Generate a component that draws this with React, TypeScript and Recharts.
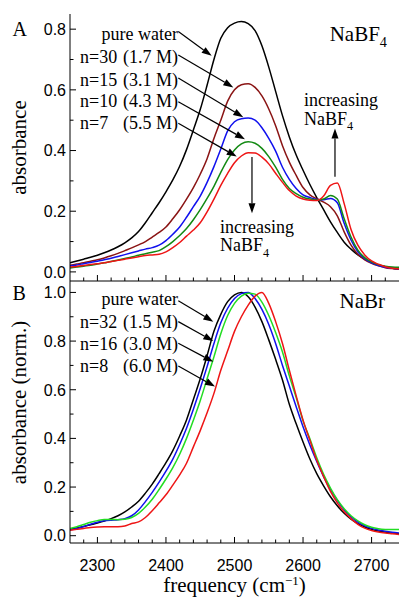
import { LineChart, Line, XAxis, YAxis, ReferenceLine, ReferenceDot } from 'recharts'

// frequency grid (cm-1)
const freq = [
  2260, 2270, 2280, 2290, 2300, 2310, 2320, 2330, 2340, 2350, 2360, 2370, 2380, 2390, 2400, 2410, 2420,
  2430, 2440, 2450, 2460, 2470, 2480, 2490, 2500, 2510, 2520, 2530, 2540, 2550, 2560, 2570, 2580, 2590,
  2600, 2610, 2620, 2630, 2640, 2650, 2660, 2670, 2680, 2690, 2700, 2710, 2720, 2730, 2740,
]

// panel A: NaBF4
const waterA = [
  0.030, 0.036, 0.042, 0.048, 0.055, 0.063, 0.072, 0.083, 0.096, 0.112, 0.133, 0.162, 0.195, 0.228, 0.264, 0.303, 0.348,
  0.403, 0.468, 0.535, 0.615, 0.700, 0.770, 0.805, 0.820, 0.825, 0.818, 0.795, 0.745, 0.675, 0.595, 0.515, 0.445, 0.385,
  0.335, 0.288, 0.245, 0.205, 0.165, 0.130, 0.098, 0.075, 0.056, 0.042, 0.031, 0.023, 0.017, 0.012, 0.009,
]
const n30A = [
  0.022, 0.026, 0.030, 0.035, 0.040, 0.046, 0.053, 0.061, 0.070, 0.079, 0.089, 0.100, 0.115, 0.130, 0.148, 0.175, 0.205,
  0.240, 0.278, 0.322, 0.373, 0.440, 0.500, 0.563, 0.600, 0.617, 0.620, 0.608, 0.580, 0.537, 0.482, 0.416, 0.362, 0.318,
  0.278, 0.254, 0.241, 0.230, 0.215, 0.185, 0.132, 0.088, 0.058, 0.040, 0.028, 0.020, 0.014, 0.011, 0.009,
]
const n15A = [
  0.020, 0.023, 0.027, 0.031, 0.035, 0.040, 0.045, 0.051, 0.057, 0.063, 0.069, 0.075, 0.080, 0.088, 0.103, 0.124, 0.148,
  0.180, 0.215, 0.250, 0.295, 0.347, 0.405, 0.465, 0.495, 0.505, 0.507, 0.500, 0.475, 0.440, 0.398, 0.345, 0.305, 0.275,
  0.254, 0.245, 0.239, 0.238, 0.242, 0.228, 0.160, 0.105, 0.066, 0.044, 0.030, 0.021, 0.015, 0.012, 0.010,
]
const n10A = [
  0.013, 0.016, 0.019, 0.022, 0.026, 0.030, 0.034, 0.039, 0.044, 0.049, 0.055, 0.060, 0.065, 0.070, 0.083, 0.100, 0.120,
  0.143, 0.172, 0.205, 0.242, 0.282, 0.328, 0.370, 0.402, 0.422, 0.429, 0.424, 0.407, 0.380, 0.345, 0.305, 0.275, 0.258,
  0.246, 0.240, 0.237, 0.240, 0.252, 0.240, 0.175, 0.115, 0.072, 0.047, 0.033, 0.024, 0.019, 0.016, 0.015,
]
const n7A = [
  0.016, 0.018, 0.021, 0.024, 0.027, 0.030, 0.034, 0.038, 0.042, 0.046, 0.050, 0.054, 0.056, 0.058, 0.066, 0.080, 0.097,
  0.118, 0.138, 0.162, 0.198, 0.240, 0.285, 0.325, 0.360, 0.382, 0.393, 0.392, 0.378, 0.356, 0.325, 0.295, 0.268, 0.250,
  0.240, 0.236, 0.235, 0.250, 0.285, 0.293, 0.225, 0.140, 0.088, 0.056, 0.036, 0.025, 0.017, 0.012, 0.010,
]

// panel B: NaBr (normalized)
const waterB = [
  0.027, 0.032, 0.038, 0.045, 0.052, 0.060, 0.070, 0.082, 0.098, 0.118, 0.142, 0.175, 0.212, 0.255, 0.300, 0.350, 0.410,
  0.476, 0.560, 0.645, 0.740, 0.840, 0.910, 0.962, 0.990, 1.000, 0.982, 0.940, 0.880, 0.805, 0.725, 0.640, 0.540, 0.460,
  0.385, 0.315, 0.255, 0.205, 0.160, 0.123, 0.092, 0.068, 0.050, 0.036, 0.026, 0.019, 0.015, 0.011, 0.008,
]
const n32B = [
  0.024, 0.030, 0.038, 0.047, 0.055, 0.061, 0.064, 0.066, 0.070, 0.082, 0.106, 0.140, 0.178, 0.220, 0.265, 0.315, 0.375,
  0.442, 0.520, 0.605, 0.695, 0.790, 0.875, 0.935, 0.975, 0.995, 1.000, 0.975, 0.930, 0.868, 0.790, 0.700, 0.615, 0.530,
  0.448, 0.373, 0.305, 0.243, 0.190, 0.145, 0.107, 0.078, 0.056, 0.041, 0.030, 0.023, 0.018, 0.014, 0.011,
]
const n16B = [
  0.030, 0.037, 0.046, 0.055, 0.062, 0.067, 0.067, 0.066, 0.068, 0.075, 0.092, 0.118, 0.150, 0.190, 0.233, 0.280, 0.335,
  0.400, 0.475, 0.555, 0.645, 0.735, 0.830, 0.905, 0.955, 0.985, 0.997, 0.993, 0.960, 0.905, 0.835, 0.755, 0.657, 0.568,
  0.472, 0.398, 0.320, 0.252, 0.196, 0.148, 0.111, 0.082, 0.061, 0.045, 0.035, 0.029, 0.026, 0.025, 0.025,
]
const n8B = [
  0.022, 0.026, 0.030, 0.034, 0.036, 0.037, 0.037, 0.037, 0.040, 0.050, 0.057, 0.075, 0.103, 0.135, 0.168, 0.208, 0.250,
  0.298, 0.365, 0.432, 0.505, 0.585, 0.680, 0.760, 0.840, 0.900, 0.948, 0.985, 1.000, 0.955, 0.880, 0.790, 0.680, 0.575,
  0.475, 0.392, 0.310, 0.244, 0.182, 0.135, 0.098, 0.070, 0.047, 0.031, 0.021, 0.015, 0.011, 0.008, 0.005,
]

const xTicks = [2280, 2300, 2320, 2340, 2360, 2380, 2400, 2420, 2440, 2460, 2480, 2500, 2520, 2540, 2560, 2580, 2600, 2620, 2640, 2660, 2680, 2700, 2720]
const yTicksA = [0, 0.1, 0.2, 0.3, 0.4, 0.5, 0.6, 0.7, 0.8]
const yTicksB = [0, 0.1, 0.2, 0.3, 0.4, 0.5, 0.6, 0.7, 0.8, 0.9, 1.0]

const dataA = freq.map((f, i) => ({ f, water: waterA[i], n30: n30A[i], n15: n15A[i], n10: n10A[i], n7: n7A[i] }))
const dataB = freq.map((f, i) => ({ f, water: waterB[i], n32: n32B[i], n16: n16B[i], n8: n8B[i] }))

const serif = '"Liberation Serif", "Times New Roman", serif'
const sans = '"Liberation Sans", Arial, sans-serif'

// inward ticks, labels only on the major ones
const xTick = (p: any, withLabel: boolean) => {
  const v = p.payload.value
  const major = v % 100 === 0
  return (
    <g>
      <line x1={p.x} y1={p.y} x2={p.x} y2={p.y - (major ? 6 : 3.5)} stroke="#000" />
      {withLabel && major && (
        <text x={p.x} y={p.y + 28} textAnchor="middle" fontFamily={sans} fontSize={16} fill="#000">{v}</text>
      )}
    </g>
  )
}

const yTick = (p: any) => {
  const v = p.payload.value
  const major = Math.round(v * 10) % 2 === 0
  return (
    <g>
      <line x1={p.x} y1={p.y} x2={p.x + (major ? 6 : 3.5)} y2={p.y} stroke="#000" />
      {major && (
        <text x={p.x - 4} y={p.y} dy="0.36em" textAnchor="end" fontFamily={sans} fontSize={16} fill="#000">{v.toFixed(1)}</text>
      )}
    </g>
  )
}

const arrowShape = (p: any) => {
  const { x1, y1, x2, y2 } = p
  const ang = Math.atan2(y2 - y1, x2 - x1)
  const len = 10
  const half = 3.5
  const bx = x2 - len * Math.cos(ang)
  const by = y2 - len * Math.sin(ang)
  const px = -Math.sin(ang) * half
  const py = Math.cos(ang) * half
  return (
    <g>
      <line x1={x1} y1={y1} x2={bx} y2={by} stroke="#000" strokeWidth={1.2} />
      <polygon points={`${x2},${y2} ${bx + px},${by + py} ${bx - px},${by - py}`} fill="#000" />
    </g>
  )
}

const arrow = (key: string, f1: number, a1: number, f2: number, a2: number) => (
  <ReferenceLine key={key} segment={[{ x: f1, y: a1 }, { x: f2, y: a2 }]} ifOverflow="visible" shape={arrowShape} />
)

const note = (key: string, f: number, a: number, content: any, anchor: string, size = 18) => (
  <ReferenceDot
    key={key}
    x={f}
    y={a}
    r={0}
    ifOverflow="visible"
    shape={(p: any) => (
      <text x={p.cx} y={p.cy} dy="0.35em" textAnchor={anchor} fontFamily={serif} fontSize={size} fill="#000">
        {content}
      </text>
    )}
  />
)

const nabf4 = (size: number) => (
  <>
    NaBF<tspan dy={size * 0.3} fontSize={size * 0.68}>4</tspan>
  </>
)

const labelA = (p: any) => {
  const vb = p.viewBox
  return (
    <g fontFamily={serif} fill="#000">
      <text x={12.5} y={vb.y + 22} fontSize={20}>A</text>
      <text transform={`translate(25.5,${vb.y + vb.height / 2}) rotate(-90)`} textAnchor="middle" fontSize={21}>absorbance</text>
    </g>
  )
}

const labelB = (p: any) => {
  const vb = p.viewBox
  return (
    <g fontFamily={serif} fill="#000">
      <text x={12.5} y={vb.y + 19} fontSize={20}>B</text>
      <text transform={`translate(25.5,${vb.y + 121.5}) rotate(-90)`} textAnchor="middle" fontSize={21}>absorbance (norm.)</text>
    </g>
  )
}

const labelX = (p: any) => {
  const vb = p.viewBox
  return (
    <text x={vb.x + vb.width / 2} y={vb.y + 49} textAnchor="middle" fontFamily={serif} fontSize={21} fill="#000">
      frequency (cm<tspan dy={-7} fontSize={13}>−1</tspan><tspan dy={7}>)</tspan>
    </text>
  )
}

const axisLine = { stroke: '#000' }

export default function App() {
  return (
    <div style={{ position: 'absolute', left: 0, top: 0, width: 409, height: 600, background: '#fff' }}>
      <div style={{ position: 'absolute', left: 0, top: 0 }}>
        <LineChart width={409} height={290} data={dataA} margin={{ top: 14, right: 10, bottom: 8, left: 0 }}>
          <XAxis dataKey="f" type="number" domain={[2260, 2740]} ticks={xTicks} interval={0} allowDataOverflow
            height={1} tickSize={0} tickMargin={0} tickLine={false} axisLine={axisLine} tick={(p: any) => xTick(p, false)} />
          <XAxis xAxisId="top" orientation="top" dataKey="f" type="number" domain={[2260, 2740]} allowDataOverflow
            height={0} tick={false} tickLine={false} axisLine={axisLine} />
          <YAxis type="number" domain={[-0.03, 0.85]} ticks={yTicksA} interval={0} allowDataOverflow width={70}
            tickSize={0} tickMargin={0} tickLine={false} axisLine={axisLine} tick={yTick} label={labelA} />
          <YAxis yAxisId="right" orientation="right" type="number" domain={[-0.03, 0.85]} allowDataOverflow
            width={0} tick={false} tickLine={false} axisLine={axisLine} />
          <Line dataKey="water" type="monotone" stroke="#000000" strokeWidth={1.5} dot={false} activeDot={false} isAnimationActive={false} />
          <Line dataKey="n30" type="monotone" stroke="#8a1414" strokeWidth={1.5} dot={false} activeDot={false} isAnimationActive={false} />
          <Line dataKey="n15" type="monotone" stroke="#1010ee" strokeWidth={1.5} dot={false} activeDot={false} isAnimationActive={false} />
          <Line dataKey="n10" type="monotone" stroke="#138a13" strokeWidth={1.5} dot={false} activeDot={false} isAnimationActive={false} />
          <Line dataKey="n7" type="monotone" stroke="#ee1515" strokeWidth={1.5} dot={false} activeDot={false} isAnimationActive={false} />

          {note('tA', 2722.5, 0.786, nabf4(21), 'end', 21)}
          {note('w', 2417.6, 0.784, 'pure water', 'end')}
          {note('l30', 2274.6, 0.708, 'n=30', 'start')}
          {note('r30', 2417.6, 0.708, '(1.7 M)', 'end')}
          {note('l15', 2274.6, 0.634, 'n=15', 'start')}
          {note('r15', 2417.6, 0.634, '(3.1 M)', 'end')}
          {note('l10', 2274.6, 0.563, 'n=10', 'start')}
          {note('r10', 2417.6, 0.563, '(4.3 M)', 'end')}
          {note('l7', 2274.6, 0.491, 'n=7', 'start')}
          {note('r7', 2417.6, 0.491, '(5.5 M)', 'end')}
          {arrow('aw', 2418, 0.792, 2466.7, 0.712)}
          {arrow('a30', 2418, 0.715, 2498.3, 0.608)}
          {arrow('a15', 2418, 0.639, 2512.8, 0.51)}
          {arrow('a10', 2418, 0.561, 2515.3, 0.437)}
          {arrow('a7', 2418, 0.49, 2503.2, 0.38)}
          {arrow('down', 2525.5, 0.379, 2525.5, 0.193)}
          {note('inc1', 2479, 0.149, 'increasing', 'start')}
          {note('inc1b', 2479, 0.0886, nabf4(18), 'start')}
          {arrow('up', 2646.6, 0.314, 2646.6, 0.473)}
          {note('inc2', 2601.4, 0.569, 'increasing', 'start')}
          {note('inc2b', 2601.4, 0.506, nabf4(18), 'start')}
        </LineChart>
      </div>
      <div style={{ position: 'absolute', left: 0, top: 270 }}>
        <LineChart width={409} height={330} data={dataB} margin={{ top: 11, right: 10, bottom: 0, left: 0 }}>
          <XAxis dataKey="f" type="number" domain={[2260, 2740]} ticks={xTicks} interval={0} allowDataOverflow
            height={57} tickSize={0} tickMargin={0} tickLine={false} axisLine={axisLine} tick={(p: any) => xTick(p, true)}
            label={labelX} />
          <XAxis xAxisId="top" orientation="top" dataKey="f" type="number" domain={[2260, 2740]} allowDataOverflow
            height={0} tick={false} tickLine={false} axisLine={axisLine} />
          <YAxis type="number" domain={[-0.03, 1.047]} ticks={yTicksB} interval={0} allowDataOverflow width={70}
            tickSize={0} tickMargin={0} tickLine={false} axisLine={axisLine} tick={yTick} label={labelB} />
          <YAxis yAxisId="right" orientation="right" type="number" domain={[-0.03, 1.047]} allowDataOverflow
            width={0} tick={false} tickLine={false} axisLine={axisLine} />
          <Line dataKey="water" type="monotone" stroke="#000000" strokeWidth={1.5} dot={false} activeDot={false} isAnimationActive={false} />
          <Line dataKey="n32" type="monotone" stroke="#1010ee" strokeWidth={1.5} dot={false} activeDot={false} isAnimationActive={false} />
          <Line dataKey="n16" type="monotone" stroke="#22dd22" strokeWidth={1.5} dot={false} activeDot={false} isAnimationActive={false} />
          <Line dataKey="n8" type="monotone" stroke="#ee1515" strokeWidth={1.5} dot={false} activeDot={false} isAnimationActive={false} />

          {note('tB', 2719.6, 0.966, 'NaBr', 'end', 21)}
          {note('wB', 2417.6, 0.976, 'pure water', 'end')}
          {note('l32', 2274.6, 0.88, 'n=32', 'start')}
          {note('r32', 2417.6, 0.88, '(1.5 M)', 'end')}
          {note('l16', 2274.6, 0.791, 'n=16', 'start')}
          {note('r16', 2417.6, 0.791, '(3.0 M)', 'end')}
          {note('l8', 2274.6, 0.698, 'n=8', 'start')}
          {note('r8', 2417.6, 0.698, '(6.0 M)', 'end')}
          {arrow('bw', 2418, 0.966, 2469.1, 0.88)}
          {arrow('b32', 2418, 0.88, 2469.1, 0.8)}
          {arrow('b16', 2418, 0.791, 2469.1, 0.715)}
          {arrow('b8', 2418, 0.698, 2471.6, 0.613)}
        </LineChart>
      </div>
    </div>
  )
}
